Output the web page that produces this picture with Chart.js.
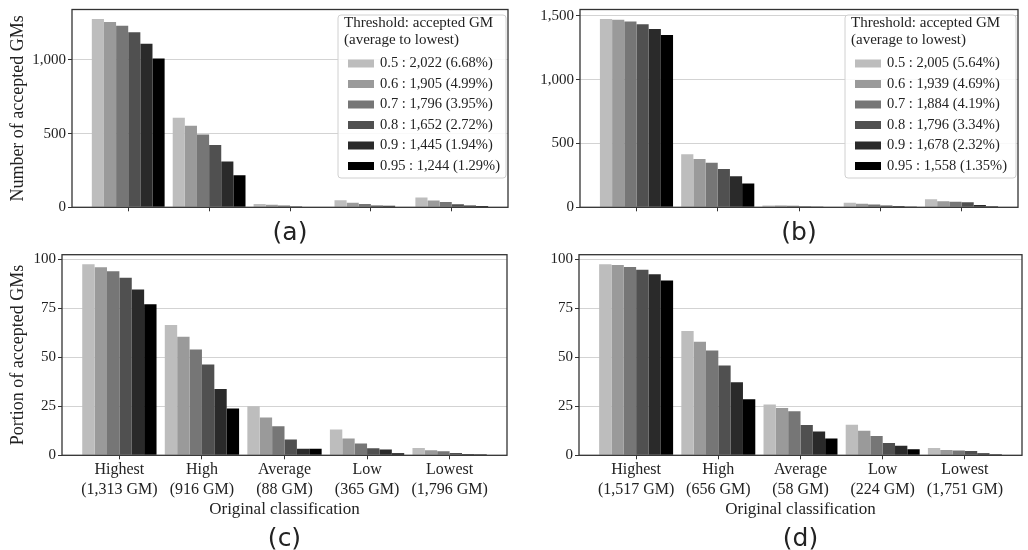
<!DOCTYPE html>
<html>
<head>
<meta charset="utf-8">
<script src="https://cdn.jsdelivr.net/npm/chart.js@4.4.1/dist/chart.umd.min.js"></script>
<style>
html,body{margin:0;padding:0;background:#fff;width:1028px;height:550px;overflow:hidden;position:relative}
canvas{position:absolute}
</style>
</head>
<body>
<canvas id="pa" width="514" height="250" style="left:0;top:0"></canvas>
<canvas id="pb" width="514" height="250" style="left:514px;top:0"></canvas>
<canvas id="pc" width="514" height="312" style="left:0;top:240px"></canvas>
<canvas id="pd" width="514" height="312" style="left:514px;top:240px"></canvas>
<script>
// ---------- data ----------
const categories = ['Highest', 'High', 'Average', 'Low', 'Lowest'];
const thresholds = ['0.5', '0.6', '0.7', '0.8', '0.9', '0.95'];
const gmCountsLeft = [1313, 916, 88, 365, 1796];
const gmCountsRight = [1517, 656, 58, 224, 1751];

// (a) number of accepted GMs per original class, one array per threshold
const countsA_05  = [1278, 608, 22, 48, 66];
const countsA_06  = [1258, 553, 17, 31, 46];
const countsA_07  = [1231, 494, 13, 22, 36];
const countsA_08  = [1188, 423, 7, 13, 21];
const countsA_09  = [1109, 310, 3, 11, 12];
const countsA_095 = [1010, 218, 3, 4, 9];

// (b)
const countsB_05  = [1476, 415, 15, 35, 64];
const countsB_06  = [1470, 379, 14, 28, 48];
const countsB_07  = [1455, 350, 13, 22, 44];
const countsB_08  = [1434, 300, 9, 14, 39];
const countsB_09  = [1398, 244, 7, 11, 18];
const countsB_095 = [1350, 187, 5, 7, 9];

// (c) portion of accepted GMs (%)
const shareC_05  = [97.3, 66.4, 25.0, 13.2, 3.7];
const shareC_06  = [95.8, 60.4, 19.3, 8.5, 2.6];
const shareC_07  = [93.8, 53.9, 14.8, 6.0, 2.0];
const shareC_08  = [90.5, 46.2, 8.0, 3.6, 1.2];
const shareC_09  = [84.5, 33.8, 3.4, 3.0, 0.7];
const shareC_095 = [76.9, 23.8, 3.4, 1.1, 0.5];

// (d)
const shareD_05  = [97.3, 63.3, 25.9, 15.6, 3.7];
const shareD_06  = [96.9, 57.8, 24.1, 12.5, 2.7];
const shareD_07  = [95.9, 53.4, 22.4, 9.8, 2.5];
const shareD_08  = [94.5, 45.7, 15.5, 6.3, 2.2];
const shareD_09  = [92.2, 37.2, 12.1, 4.9, 1.0];
const shareD_095 = [89.0, 28.5, 8.6, 3.1, 0.5];

// legend: totals and percentages
const totalsA = [2022, 1905, 1796, 1652, 1445, 1244];
const pctA = ['6.68', '4.99', '3.95', '2.72', '1.94', '1.29'];
const totalsB = [2005, 1939, 1884, 1796, 1678, 1558];
const pctB = ['5.64', '4.69', '4.19', '3.34', '2.32', '1.35'];
const legendTitle = ['Threshold: accepted GM', '(average to lowest)'];

// tick labels
const yTicksA = [0, 500, 1000];
const yTicksB = [0, 500, 1000, 1500];
const yTicksShare = [0, 25, 50, 75, 100];

// ---------- style ----------
const colors = ['#bdbdbd', '#9a9a9a', '#767676', '#505050', '#2a2a2a', '#000000'];
const SERIF = '"Liberation Serif", "DejaVu Serif", serif';
const TXT = '#222222';

const framePlugin = {
  id: 'frame',
  afterDatasetsDraw(chart) {
    const {ctx, chartArea: a} = chart;
    ctx.save();
    ctx.strokeStyle = '#333333';
    ctx.lineWidth = 1.3;
    ctx.strokeRect(a.left, a.top, a.right - a.left, a.bottom - a.top);
    ctx.restore();
  }
};

function captionPlugin(text, y) {
  return {
    id: 'caption',
    afterDraw(chart) {
      const {ctx, chartArea: a} = chart;
      ctx.save();
      ctx.fillStyle = TXT;
      ctx.font = '25px "DejaVu Sans", sans-serif';
      ctx.textAlign = 'center';
      ctx.textBaseline = 'middle';
      ctx.fillText(text, (a.left + a.right) / 2, y);
      ctx.restore();
    }
  };
}

function legendPlugin(totals, pcts, geom) {
  return {
    id: 'boxLegend',
    afterDatasetsDraw(chart) {
      if (!totals) return;
      const {ctx, chartArea: a} = chart;
      const x0 = a.right - geom.right - geom.width, y0 = a.top + geom.top;
      ctx.save();
      ctx.beginPath();
      ctx.roundRect(x0, y0, geom.width, geom.height, 3);
      ctx.fillStyle = 'rgba(255,255,255,0.85)';
      ctx.fill();
      ctx.strokeStyle = '#d0d0d0';
      ctx.lineWidth = 1;
      ctx.stroke();
      ctx.textBaseline = 'middle';
      ctx.textAlign = 'left';
      ctx.fillStyle = TXT;
      ctx.font = '15px ' + SERIF;
      legendTitle.forEach((t, i) => ctx.fillText(t, x0 + 6, y0 + 8 + i * 17.5));
      ctx.font = '14.5px ' + SERIF;
      thresholds.forEach((th, i) => {
        const cy = y0 + 48.5 + i * 20.5;
        ctx.fillStyle = colors[i];
        ctx.fillRect(x0 + 10, cy - 4, 26, 8);
        ctx.fillStyle = TXT;
        ctx.fillText(th + ' : ' + totals[i].toLocaleString('en-US') + ' (' + pcts[i] + '%)', x0 + 42, cy);
      });
      ctx.restore();
    }
  };
}

function makePanel(id, p) {
  const datasets = p.series.map((vals, i) => ({
    label: thresholds[i],
    data: vals.map((v, j) => ({x: j, y: v})),
    backgroundColor: colors[i],
    borderWidth: 0,
    categoryPercentage: 0.9,
    barPercentage: 1.0
  }));
  new Chart(document.getElementById(id), {
    type: 'bar',
    data: {datasets},
    options: {
      responsive: false,
      animation: false,
      devicePixelRatio: 1,
      layout: {padding: {top: p.padTop, right: p.padRight, left: 0, bottom: 0}},
      plugins: {legend: {display: false}, tooltip: {enabled: false}, title: {display: false}},
      scales: {
        x: {
          type: 'linear',
          min: -0.695,
          max: 4.695,
          offset: false,
          afterBuildTicks: s => { s.ticks = categories.map((c, i) => ({value: i})); },
          afterFit: s => { s.height = p.xHeight; s.paddingLeft = 0; s.paddingRight = 0; },
          grid: {display: true, drawOnChartArea: false, drawTicks: true, tickLength: 4, tickColor: '#333333', offset: false},
          border: {display: false},
          ticks: {
            autoSkip: false, maxRotation: 0, minRotation: 0, padding: 0, color: TXT,
            font: {family: SERIF, size: 16, lineHeight: 1.25},
            callback: v => p.counts ? [categories[v], '(' + p.counts[v].toLocaleString('en-US') + ' GM)'] : ''
          },
          title: {
            display: !!p.xTitle, text: p.xTitle || '', color: TXT,
            font: {family: SERIF, size: 17, lineHeight: 1.2},
            padding: {top: 0, bottom: p.xTitlePad || 0}
          }
        },
        y: {
          min: 0,
          max: p.yMax,
          afterBuildTicks: s => { s.ticks = p.yTicks.map(v => ({value: v})); },
          afterFit: s => { s.width = p.yWidth; s.paddingTop = 0; s.paddingBottom = 0; },
          grid: {color: '#d3d3d3', lineWidth: 1, tickColor: '#333333', tickLength: 4, drawTicks: true},
          border: {display: false},
          ticks: {padding: 2, color: TXT, font: {family: SERIF, size: 15}, callback: v => v.toLocaleString('en-US')},
          title: {
            display: !!p.yTitle, text: p.yTitle || '', color: TXT,
            font: {family: SERIF, size: 18, lineHeight: 1.2},
            padding: {top: 7, bottom: 0}
          }
        }
      }
    },
    plugins: [framePlugin, legendPlugin(p.totals, p.pcts, p.legendGeom || {}), captionPlugin(p.caption, p.capY)]
  });
}

makePanel('pa', {
  series: [countsA_05, countsA_06, countsA_07, countsA_08, countsA_09, countsA_095],
  yMax: 1342, yTicks: yTicksA, yTitle: 'Number of accepted GMs',
  padTop: 9.5, padRight: 6, yWidth: 72, xHeight: 42.7,
  caption: '(a)', capY: 233,
  totals: totalsA, pcts: pctA, legendGeom: {right: 2, top: 5.5, width: 168, height: 163}
});
makePanel('pb', {
  series: [countsB_05, countsB_06, countsB_07, countsB_08, countsB_09, countsB_095],
  yMax: 1550, yTicks: yTicksB, yTitle: '',
  padTop: 9.5, padRight: 10, yWidth: 66, xHeight: 42.7,
  caption: '(b)', capY: 233,
  totals: totalsB, pcts: pctB, legendGeom: {right: 2, top: 5.5, width: 171, height: 163}
});
makePanel('pc', {
  series: [shareC_05, shareC_06, shareC_07, shareC_08, shareC_09, shareC_095],
  yMax: 102.2, yTicks: yTicksShare, yTitle: 'Portion of accepted GMs',
  padTop: 14.7, padRight: 7, yWidth: 62, xHeight: 96.7,
  counts: gmCountsLeft, xTitle: 'Original classification', xTitlePad: 32.3,
  caption: '(c)', capY: 299
});
makePanel('pd', {
  series: [shareD_05, shareD_06, shareD_07, shareD_08, shareD_09, shareD_095],
  yMax: 102.2, yTicks: yTicksShare, yTitle: '',
  padTop: 14.7, padRight: 6, yWidth: 65, xHeight: 96.7,
  counts: gmCountsRight, xTitle: 'Original classification', xTitlePad: 32.3,
  caption: '(d)', capY: 299
});
</script>
</body>
</html>
